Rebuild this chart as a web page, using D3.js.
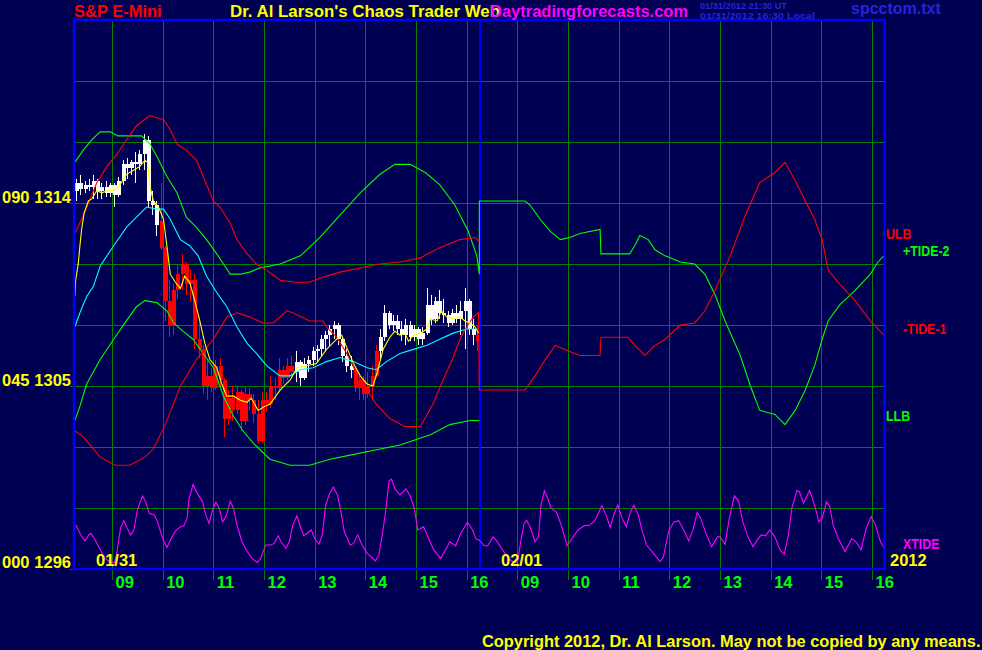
<!DOCTYPE html>
<html><head><meta charset="utf-8">
<script src="https://cdn.jsdelivr.net/npm/d3@7"></script>
<style>
html,body{margin:0;padding:0;background:#000052;}
svg{display:block;}
text{font-family:"Liberation Sans",Arial,Helvetica,sans-serif;font-weight:bold;}
</style></head><body>
<svg id="c" width="982" height="650"></svg>
<script>
// ---------- DATA ----------
// time axis: session minutes since 01/31 08:15 (day 2 session starts at minute 480)
const sessionMinutes = 960;
const dayLabels = ["01/31", "02/01"];
const yearLabel = "2012";
const hourLabels = ["09", "10", "11", "12", "13", "14", "15", "16"];
const priceGrid = [1299, 1302, 1305, 1308, 1311, 1314, 1317, 1320];
const labeledLevels = [[1314, "090", "1314"], [1305, "045", "1305"], [1296, "000", "1296"]];

// 5-minute price bars, day 1 (from 08:15)
const barStep = 5;
const barOpen = [1314.6,1315.0,1314.7,1314.9,1314.8,1315.1,1314.6,1314.8,1314.5,1314.9,1314.4,1315.1,1315.9,1315.7,1316.0,1315.9,1316.4,1317.1,1314.1,1313.9,1313.1,1311.8,1309.2,1308.0,1309.7,1310.5,1311.0,1310.0,1310.2,1307.3,1306.8,1305.0,1305.5,1304.9,1306.0,1305.3,1303.4,1304.4,1303.8,1304.7,1303.3,1304.6,1304.3,1303.6,1302.3,1304.3,1304.1,1305.0,1304.9,1305.8,1305.4,1306.0,1305.7,1306.2,1305.4,1306.1,1306.3,1306.7,1306.8,1307.3,1307.5,1307.8,1308.0,1307.3,1306.5,1306.0,1305.8,1304.9,1305.3,1304.6,1305.0,1305.5,1306.7,1307.4,1308.6,1308.0,1308.2,1307.8,1307.5,1308.0,1307.4,1307.8,1307.3,1307.6,1309.0,1308.3,1309.2,1308.6,1308.5,1308.1,1308.6,1308.3,1308.7,1309.2,1307.8,1307.5];
const barHigh = [1315.2,1315.4,1315.1,1315.2,1315.4,1315.2,1315.0,1315.1,1315.0,1315.0,1315.3,1316.1,1316.2,1316.1,1316.5,1316.6,1317.4,1317.3,1314.6,1314.1,1315.0,1311.9,1310.2,1310.0,1311.0,1311.5,1311.1,1310.7,1310.5,1308.3,1307.0,1306.3,1305.9,1306.3,1306.4,1305.4,1304.8,1305.0,1305.0,1304.8,1305.0,1304.9,1304.6,1304.3,1304.7,1304.7,1305.5,1305.4,1306.4,1306.0,1306.4,1306.5,1306.7,1306.3,1306.4,1306.5,1306.9,1307.0,1307.5,1307.7,1308.0,1308.2,1308.1,1307.4,1306.8,1306.5,1306.0,1305.5,1305.5,1305.7,1306.0,1307.0,1307.8,1309.0,1308.7,1308.5,1308.5,1308.2,1308.3,1308.2,1308.0,1307.9,1307.9,1309.8,1309.5,1309.4,1309.7,1309.3,1308.7,1308.8,1309.0,1309.2,1309.8,1309.3,1308.3,1308.0];
const barLow = [1314.1,1314.4,1314.5,1314.6,1314.2,1314.2,1314.2,1314.3,1314.3,1313.8,1314.3,1314.9,1315.2,1315.4,1315.0,1315.6,1315.6,1313.8,1313.4,1312.4,1311.7,1308.2,1307.4,1307.5,1309.3,1309.7,1309.5,1309.2,1306.8,1306.4,1304.6,1304.3,1304.7,1304.8,1305.0,1302.5,1303.1,1303.3,1303.6,1302.8,1303.1,1303.8,1303.2,1302.2,1302.2,1303.7,1303.9,1304.3,1304.8,1305.1,1305.3,1305.4,1305.2,1305.0,1305.3,1305.7,1306.0,1306.2,1306.5,1306.7,1306.9,1307.3,1307.0,1306.2,1305.7,1305.4,1304.7,1304.3,1304.3,1304.4,1304.3,1305.4,1306.3,1307.2,1307.8,1307.7,1307.5,1307.2,1307.0,1307.2,1307.2,1307.0,1307.0,1307.5,1308.0,1308.1,1308.3,1308.1,1307.9,1308.0,1308.1,1307.5,1306.8,1307.5,1307.0,1306.7];
const barClose = [1315.0,1314.7,1314.9,1314.8,1315.1,1314.6,1314.8,1314.5,1314.9,1314.4,1315.1,1315.9,1315.7,1316.0,1315.9,1316.4,1317.1,1314.1,1313.9,1312.9,1311.8,1309.2,1308.0,1309.7,1310.5,1311.0,1310.0,1310.2,1307.3,1306.8,1305.0,1305.5,1304.9,1306.0,1305.3,1303.4,1304.4,1303.8,1304.7,1303.3,1304.6,1304.3,1303.6,1302.3,1304.3,1304.1,1305.0,1304.9,1305.8,1305.4,1306.0,1305.7,1306.2,1305.4,1306.1,1306.3,1306.7,1306.8,1307.3,1307.5,1307.8,1308.0,1307.3,1306.5,1306.0,1305.8,1304.9,1305.3,1304.6,1305.0,1305.5,1306.7,1307.4,1308.6,1308.0,1308.2,1307.8,1307.5,1308.0,1307.4,1307.8,1307.3,1307.6,1309.0,1308.3,1309.2,1308.6,1308.5,1308.1,1308.6,1308.3,1308.7,1309.2,1307.8,1307.5,1307.2];

// fast average (yellow) [minute, price]
const fastAvg = [[1,1309.4],[2,1310.2],[5,1311.0],[7,1311.9],[9,1312.7],[12,1313.5],[17,1314.1],[21,1314.2],[27,1314.6],[33,1314.5],[39,1314.6],[45,1314.6],[51,1314.7],[56,1315.0],[62,1315.4],[70,1315.6],[78,1315.8],[84,1316.1],[87,1316.0],[90,1314.8],[94,1314.1],[100,1313.8],[106,1313.2],[110,1311.9],[114,1310.5],[120,1310.1],[126,1309.8],[131,1310.4],[137,1310.1],[143,1309.2],[149,1308.2],[155,1307.1],[161,1306.3],[169,1305.9],[175,1305.1],[181,1304.5],[189,1304.5],[197,1304.3],[205,1304.2],[210,1304.4],[218,1303.8],[226,1304.0],[232,1304.1],[244,1304.8],[256,1305.3],[264,1305.9],[276,1306.0],[287,1306.1],[299,1306.8],[311,1307.3],[317,1307.5],[323,1306.9],[331,1306.1],[339,1305.5],[347,1305.1],[354,1305.0],[360,1305.8],[366,1306.8],[374,1307.4],[380,1307.7],[386,1307.5],[392,1307.6],[396,1307.2],[402,1307.5],[410,1307.6],[418,1307.8],[422,1308.3],[430,1308.2],[435,1308.7],[441,1308.4],[449,1308.3],[457,1308.4],[463,1308.2],[469,1308.1],[475,1307.9],[479,1307.6]];
// slow average (cyan)
const slowAvg = [[1,1307.9],[7,1308.6],[15,1309.4],[23,1309.9],[31,1310.9],[47,1311.9],[62,1312.8],[74,1313.3],[86,1313.8],[98,1313.7],[106,1313.7],[114,1313.2],[126,1312.2],[137,1311.9],[147,1311.4],[157,1310.4],[169,1309.6],[181,1308.9],[193,1307.9],[205,1307.1],[216,1306.6],[228,1306.0],[244,1305.5],[256,1305.5],[268,1305.8],[283,1305.9],[299,1306.2],[315,1306.4],[331,1306.2],[347,1305.9],[358,1305.8],[370,1306.2],[386,1306.6],[402,1306.8],[418,1307.0],[433,1307.3],[449,1307.6],[465,1307.8],[475,1307.8]];
// upper band, red (day 1)
const upperBand = [[1,1312.5],[9,1313.2],[15,1313.8],[27,1315.0],[39,1315.8],[51,1316.4],[62,1317.1],[74,1317.8],[90,1318.3],[106,1318.1],[114,1317.6],[122,1316.9],[133,1316.6],[145,1316.1],[153,1315.3],[165,1314.1],[173,1313.8],[185,1313.0],[193,1312.2],[205,1311.5],[216,1311.0],[228,1310.7],[244,1310.2],[262,1310.1],[279,1310.1],[291,1310.3],[315,1310.6],[339,1310.8],[362,1311.0],[386,1311.1],[410,1311.3],[433,1311.8],[457,1312.2],[475,1312.3],[480,1312.1]];
// lower band, green (day 1)
const lowerBand = [[1,1303.3],[7,1304.0],[15,1305.1],[31,1306.3],[47,1307.3],[62,1308.2],[74,1308.9],[84,1309.2],[98,1309.1],[110,1308.7],[118,1308.1],[129,1307.7],[141,1307.3],[153,1306.6],[165,1305.9],[177,1304.5],[189,1303.5],[200,1302.8],[212,1302.2],[232,1301.4],[256,1301.1],[279,1301.1],[303,1301.4],[327,1301.6],[351,1301.8],[386,1302.1],[422,1302.6],[445,1303.1],[469,1303.3],[480,1303.3]];
// green tide: day-1 upper green, then day-2 +TIDE-2
const plusTide2 = [[1,1316.0],[11,1316.6],[21,1317.1],[31,1317.5],[43,1317.5],[52,1317.3],[66,1317.3],[80,1317.3],[90,1316.9],[98,1316.3],[110,1315.3],[122,1314.5],[133,1313.3],[145,1312.8],[157,1312.2],[169,1311.5],[177,1311.0],[185,1310.5],[197,1310.5],[208,1310.6],[220,1310.8],[244,1311.0],[268,1311.4],[291,1312.3],[315,1313.4],[339,1314.5],[362,1315.4],[380,1315.9],[398,1315.9],[416,1315.5],[433,1314.9],[451,1313.9],[467,1312.6],[477,1311.4],[480,1310.5],[480,1314.1],[534,1314.1],[540,1313.9],[552,1313.2],[564,1312.6],[576,1312.2],[587,1312.3],[599,1312.5],[623,1312.7],[624,1311.5],[658,1311.5],[664,1311.9],[670,1312.4],[680,1312.2],[688,1311.7],[700,1311.4],[718,1311.1],[735,1311.0],[747,1310.5],[759,1309.5],[771,1308.2],[789,1306.5],[801,1305.0],[812,1303.8],[830,1303.6],[842,1303.1],[854,1303.8],[866,1304.8],[877,1306.0],[886,1307.3],[893,1308.2],[907,1309.0],[925,1309.7],[943,1310.5],[952,1311.1],[959,1311.4]];
// red tide: day-1 lower red, then day-2 -TIDE-1
const minusTide1 = [[1,1302.8],[11,1302.5],[19,1302.1],[31,1301.5],[49,1301.1],[66,1301.1],[84,1301.5],[94,1301.9],[108,1303.1],[126,1305.0],[145,1306.3],[165,1307.3],[181,1308.4],[193,1308.6],[208,1308.4],[224,1308.1],[236,1308.1],[252,1308.7],[259,1308.6],[279,1308.2],[295,1308.2],[299,1307.9],[311,1307.4],[323,1306.6],[335,1305.6],[347,1304.8],[358,1304.1],[374,1303.4],[392,1303.0],[410,1303.0],[425,1304.1],[437,1305.3],[449,1306.4],[457,1307.3],[465,1307.9],[473,1308.4],[479,1308.6],[480,1304.8],[534,1304.8],[546,1305.5],[558,1306.3],[570,1307.0],[581,1306.8],[599,1306.5],[623,1306.5],[624,1307.4],[656,1307.4],[664,1307.0],[676,1306.5],[688,1307.0],[700,1307.3],[718,1308.0],[735,1308.1],[747,1308.7],[759,1309.7],[777,1311.4],[795,1313.4],[812,1315.0],[830,1315.5],[842,1316.0],[854,1315.1],[866,1314.1],[877,1313.2],[886,1312.2],[893,1310.7],[907,1310.0],[925,1309.2],[943,1308.2],[959,1307.5]];
// XTIDE (tide units 0..90, left inner scale)
const xtide = [[2,10.8],[8,8.4],[13,6.9],[18,8.5],[20,8.8],[24,7.5],[30,5.2],[36,2.8],[43,1.6],[48,1.6],[51,4.3],[55,10.0],[59,11.9],[63,10.0],[67,8.4],[71,9.6],[75,14.5],[81,18.0],[85,16.5],[89,13.7],[95,13.3],[99,11.6],[105,7.5],[110,5.3],[115,7.5],[120,9.3],[126,10.4],[130,10.6],[134,12.5],[136,17.0],[141,20.8],[146,18.6],[152,16.7],[156,13.3],[160,11.2],[164,14.5],[168,16.4],[172,14.9],[176,11.6],[180,12.9],[185,16.7],[189,14.9],[193,10.8],[199,6.7],[205,4.3],[211,2.6],[217,1.6],[221,2.6],[227,5.9],[233,5.9],[237,6.3],[242,8.2],[245,6.7],[251,5.1],[255,6.7],[259,10.8],[264,13.1],[268,10.4],[272,8.2],[276,8.8],[281,9.6],[285,7.5],[290,6.1],[294,8.4],[298,15.7],[302,18.2],[307,20.2],[312,18.2],[316,14.1],[320,9.2],[327,5.9],[331,6.3],[336,8.4],[341,5.9],[347,3.9],[357,2.0],[361,3.4],[365,8.4],[369,14.1],[373,21.6],[376,22.1],[380,19.7],[386,18.2],[393,19.7],[398,18.0],[403,14.9],[407,9.6],[414,10.4],[420,7.5],[426,4.7],[434,2.6],[440,4.7],[445,6.7],[452,5.7],[458,8.8],[466,11.5],[472,9.6],[476,7.4],[480,7.1],[486,5.7],[490,5.7],[496,7.9],[500,7.1],[506,5.1],[512,3.4],[518,2.0],[525,1.4],[529,6.7],[533,11.2],[536,12.0],[540,10.4],[546,6.7],[550,7.9],[553,15.7],[557,19.2],[561,17.4],[565,14.9],[571,14.1],[577,10.8],[584,5.7],[591,7.9],[597,9.6],[604,10.6],[611,10.8],[617,12.0],[621,13.7],[625,15.6],[630,13.3],[635,10.2],[640,13.9],[644,15.7],[649,12.5],[654,10.4],[659,14.1],[663,15.6],[668,13.5],[672,10.0],[678,5.9],[686,3.9],[694,1.8],[698,3.0],[704,9.2],[710,11.5],[716,11.9],[721,10.0],[728,6.9],[733,9.6],[738,13.9],[742,12.5],[749,8.4],[755,5.5],[762,7.9],[765,7.9],[771,6.1],[776,12.5],[782,18.0],[787,16.7],[792,11.6],[798,7.9],[804,5.5],[809,7.1],[814,8.4],[819,8.2],[824,9.6],[830,7.9],[836,4.7],[841,3.6],[846,8.4],[850,14.9],[856,19.3],[859,19.0],[864,16.2],[871,19.3],[875,17.0],[879,14.1],[882,11.6],[886,12.5],[891,16.5],[895,15.3],[899,10.8],[905,7.5],[913,4.3],[921,7.5],[926,6.7],[932,4.7],[938,10.0],[944,12.9],[949,10.8],[955,6.7],[960,4.9]];

// ---------- DRAW ----------
const svg = d3.select('#c');
const L = 74, R = 884.7, T = 20, B = 569;
const x = d3.scaleLinear().domain([0, sessionMinutes]).range([L, R]);
const y = d3.scaleLinear().domain([1296, 1323]).range([B, T]);
const yTide = d3.scaleLinear().domain([0, 90]).range([B, y(1314)]);

svg.append('rect').attr('width', 982).attr('height', 650).attr('fill', '#000052');

const crisp = v => Math.round(v) + 0.5;
const gridG = svg.append('g').attr('shape-rendering', 'crispEdges').attr('stroke', '#008000').attr('stroke-width', 1);
gridG.selectAll('line.h').data(priceGrid).join('line').attr('class', 'h')
  .attr('x1', d => labeledLevels.some(l => l[0] === d) ? 70 : L).attr('x2', R)
  .attr('y1', d => crisp(y(d))).attr('y2', d => crisp(y(d)));
gridG.append('line').attr('x1', 70).attr('x2', L).attr('y1', crisp(y(1296))).attr('y2', crisp(y(1296)));

const hourTicks = [];
[0, 1].forEach(day => hourLabels.forEach((lab, i) => hourTicks.push({m: day * 480 + (9 + i) * 60 - 8.25 * 60, lab})));
gridG.selectAll('line.v').data(hourTicks).join('line').attr('class', 'v')
  .attr('x1', d => crisp(x(d.m))).attr('x2', d => crisp(x(d.m))).attr('y1', T).attr('y2', 580);

// price bars (white while the fast average is above the slow one, red otherwise)
function interp(arr, m) {
  const i = d3.bisector(d => d[0]).left(arr, m);
  if (i <= 0) return arr[0][1];
  if (i >= arr.length) return arr[arr.length - 1][1];
  const a = arr[i - 1], b = arr[i];
  return a[1] + (b[1] - a[1]) * (m - a[0]) / (b[0] - a[0]);
}
const bars = barOpen.map((o, i) => ({m: i * barStep + barStep / 2, o, h: barHigh[i], l: barLow[i], c: barClose[i]}));
const barG = svg.append('g').attr('shape-rendering', 'crispEdges');
bars.forEach(b => {
  const col = interp(fastAvg, b.m) < interp(slowAvg, b.m) ? '#ff0000' : '#ffffff';
  const cx = Math.round(x(b.m));
  barG.append('line').attr('x1', cx + 0.5).attr('x2', cx + 0.5).attr('y1', y(b.h)).attr('y2', y(b.l)).attr('stroke', col).attr('stroke-width', 1);
  const top = y(Math.max(b.o, b.c)), bot = y(Math.min(b.o, b.c));
  barG.append('rect').attr('x', cx - 1.5).attr('width', 4).attr('y', top).attr('height', Math.max(2, bot - top)).attr('fill', col);
});

// divider between the two days
svg.append('line').attr('x1', crisp(x(480))).attr('x2', crisp(x(480))).attr('y1', T).attr('y2', B)
  .attr('stroke', '#0000ff').attr('stroke-width', 2).attr('shape-rendering', 'crispEdges');

const line = d3.line().x(d => x(d[0])).y(d => y(d[1]));
const tideLine = d3.line().x(d => x(d[0])).y(d => yTide(d[1]));
const drawLine = (data, color, gen) => svg.append('path').attr('d', (gen || line)(data))
  .attr('fill', 'none').attr('stroke', color).attr('stroke-width', 1.1);
drawLine(xtide, '#ff00ff', tideLine);
drawLine(lowerBand, '#00ff00');
drawLine(plusTide2, '#00ff00');
drawLine(upperBand, '#ff0000');
drawLine(minusTide1, '#ff0000');
drawLine(slowAvg, '#00ffff');
drawLine(fastAvg, '#ffff00');

// frame
svg.append('rect').attr('x', L).attr('y', T).attr('width', R - L).attr('height', B - T)
  .attr('fill', 'none').attr('stroke', '#0000ff').attr('stroke-width', 2.5);

// ---------- TEXT ----------
const txt = (s, xx, yy, col, size, anchor, len) => {
  const t = svg.append('text').attr('x', xx).attr('y', yy)
    .attr('fill', col).attr('font-size', size).attr('text-anchor', anchor || 'start').text(s);
  if (len) t.attr('textLength', len).attr('lengthAdjust', 'spacingAndGlyphs');
  return t;
};
txt('S&P E-Mini', 74, 17, '#ff0000', 16.5);
txt("Dr. Al Larson's Chaos Trader Web", 230, 17, '#ffff00', 16.8, 'start', 270);
txt('Daytradingforecasts.com', 490, 17, '#ff00ff', 16.5);
txt('01/31/2012 21:30 UT', 700, 8.8, '#2424dc', 9.6, 'start', 87);
txt('01/31/2012 16:30 Local', 700, 18.8, '#2424dc', 9.6, 'start', 115);
txt('spcctom.txt', 851, 14, '#2424dc', 16);

labeledLevels.forEach(l => {
  txt(l[1], 2, Math.min(y(l[0]), 568), '#ffff00', 16.5);
  txt(l[2], 71, Math.min(y(l[0]), 568), '#ffff00', 16.5, 'end');
});
txt(dayLabels[0], 96, 566, '#ffff00', 16.5);
txt(dayLabels[1], 501, 566, '#ffff00', 16.5);
txt(yearLabel, 890, 566, '#ffff00', 16.5);
hourTicks.forEach(t => txt(t.lab, x(t.m) + 3.5, 588, '#00ff00', 16.5));

const rlab = (s, xx, yy, col) => svg.append('text').attr('transform', `translate(${xx},${yy}) scale(0.8,1)`)
  .attr('fill', col).attr('font-size', 15.5).text(s);
rlab('ULB', 886, 238.5, '#ff0000');
rlab('+TIDE-2', 903, 256, '#00ff00');
rlab('-TIDE-1', 903, 334, '#ff0000');
rlab('LLB', 886, 421, '#00ff00');
rlab('XTIDE', 903, 549, '#ff00ff');

txt('Copyright 2012, Dr. Al Larson. May not be copied by any means.', 482, 647, '#ffff00', 16.4);
</script>
</body></html>
